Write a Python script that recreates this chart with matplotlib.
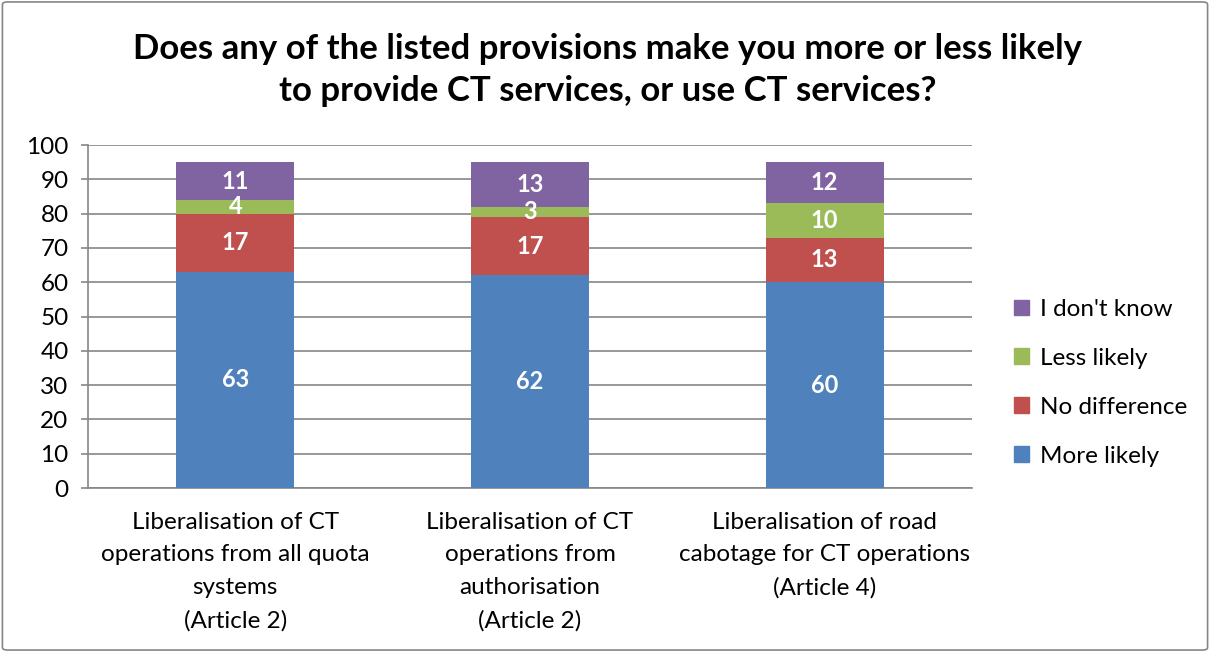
import matplotlib
matplotlib.use('Agg')
import matplotlib.pyplot as plt
import numpy as np
from matplotlib.patches import Patch, FancyBboxPatch

plt.rcParams['font.family'] = ['Lato', 'DejaVu Sans']

categories = ['Liberalisation of CT\noperations from all quota\nsystems\n(Article 2)',
              'Liberalisation of CT\noperations from\nauthorisation\n(Article 2)',
              'Liberalisation of road\ncabotage for CT operations\n(Article 4)']
series_names = ['More likely', 'No difference', 'Less likely', "I don't know"]
more_likely = [63, 62, 60]
no_difference = [17, 17, 13]
less_likely = [4, 3, 10]
dont_know = [11, 13, 12]
colors = ['#4F81BD', '#C0504D', '#9BBB59', '#8064A2']

values = [more_likely, no_difference, less_likely, dont_know]

fig = plt.figure(figsize=(12.1, 6.52), dpi=100)
ax = fig.add_axes([0.0727, 0.2515, 0.7306, 0.5261])

# outer frame of the chart
fig.patches.append(FancyBboxPatch((0.002, 0.003), 0.996, 0.994, boxstyle='round,pad=0,rounding_size=0.004',
                                  transform=fig.transFigure, fill=False, edgecolor='#868686', linewidth=1.2))

x = np.arange(len(categories))
bottom = np.zeros(len(categories))
for name, vals, c in zip(series_names, values, colors):
    ax.bar(x, vals, 0.40, bottom=bottom, color=c, label=name, zorder=3)
    for xi, b, v in zip(x, bottom, vals):
        ax.text(xi, b + v / 2, str(v), ha='center', va='center', color='white',
                fontsize=17, fontweight='bold', zorder=4)
    bottom += np.array(vals)

ax.set_xlim(-0.5, 2.5)
ax.set_ylim(0, 100)
ax.set_yticks(range(0, 101, 10))
ax.yaxis.grid(True, color='#868686', linewidth=1.2, zorder=0)
ax.set_axisbelow(True)
for s in ['top', 'right']:
    ax.spines[s].set_visible(False)
for s in ['left', 'bottom']:
    ax.spines[s].set_color('#868686')
    ax.spines[s].set_linewidth(1.2)
ax.tick_params(axis='y', labelsize=17.5, length=5, color='#868686', width=1.2, pad=9)
ax.tick_params(axis='x', length=0, labelsize=17.5, pad=17)
ax.set_xticks(x)
ax.set_xticklabels(categories, linespacing=1.68)

handles = [Patch(color=c, label=n) for n, c in zip(series_names, colors)][::-1]
fig.legend(handles=handles, loc='center left', bbox_to_anchor=(0.820, 0.413), frameon=False,
           fontsize=17.5, handlelength=0.6, handleheight=0.6, labelspacing=1.15, handletextpad=0.45)

fig.text(0.502, 0.893, 'Does any of the listed provisions make you more or less likely\nto provide CT services, or use CT services?',
         ha='center', va='center', fontsize=25, fontweight='bold', linespacing=1.38)

fig.savefig('out.png', dpi=100)
